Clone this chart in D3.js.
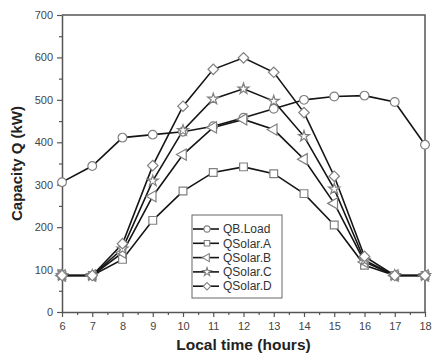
<!DOCTYPE html>
<html>
<head>
<meta charset="utf-8">
<script src="https://cdn.jsdelivr.net/npm/d3@7"></script>
<style>
  body { margin: 0; background: #fff; }
  svg { display: block; font-family: "Liberation Sans", Arial, sans-serif; }
</style>
</head>
<body>
<div id="chart"></div>
<script>
const hours = [6, 7, 8, 9, 10, 11, 12, 13, 14, 15, 16, 17, 18];
const loadQ = [306, 344, 411, 418, 425, 438, 458, 479, 500, 508, 510, 495, 394];
const solarA = [86, 86, 124, 216, 285, 329, 342, 326, 279, 205, 110, 86, 86];
const solarB = [86, 86, 140, 273, 371, 435, 454, 430, 360, 256, 118, 86, 86];
const solarC = [86, 86, 149, 309, 428, 502, 526, 497, 414, 290, 122, 86, 86];
const solarD = [86, 86, 161, 345, 485, 572, 599, 565, 470, 320, 131, 86, 86];
const seriesNames = ["QB.Load", "QSolar.A", "QSolar.B", "QSolar.C", "QSolar.D"];
const yTicks = [0, 100, 200, 300, 400, 500, 600, 700];

const width = 443;
const height = 364;
const margin = { top: 15, right: 18, bottom: 52, left: 62 };

const x = d3.scaleLinear()
    .domain([6, 18])
    .range([margin.left, width - margin.right]);

const y = d3.scaleLinear()
    .domain([0, 700])
    .range([height - margin.bottom, margin.top]);

const svg = d3.select("#chart")
    .append("svg")
    .attr("width", width)
    .attr("height", height);

const axisColor = "#555";

// minor ticks first
svg.append("g")
    .attr("transform", `translate(0,${y(0)})`)
    .call(d3.axisBottom(x).tickValues(d3.range(6.5, 18, 1)).tickSize(3).tickFormat(""))
    .call(g => g.select(".domain").remove())
    .call(g => g.selectAll("line").attr("stroke", axisColor).attr("stroke-width", 1.2));

svg.append("g")
    .attr("transform", `translate(${x(6)},0)`)
    .call(d3.axisLeft(y).tickValues(d3.range(50, 700, 100)).tickSize(3).tickFormat(""))
    .call(g => g.select(".domain").remove())
    .call(g => g.selectAll("line").attr("stroke", axisColor).attr("stroke-width", 1.2));

// major axes
svg.append("g")
    .attr("transform", `translate(0,${y(0)})`)
    .call(d3.axisBottom(x).tickValues(hours).tickSize(5).tickSizeOuter(0).tickPadding(5).tickFormat(d3.format("d")))
    .call(g => g.select(".domain").attr("stroke", axisColor).attr("stroke-width", 1.5))
    .call(g => g.selectAll("line").attr("stroke", axisColor).attr("stroke-width", 1.2))
    .call(g => g.selectAll("text").attr("fill", "#444").style("font-size", "11px"));

svg.append("g")
    .attr("transform", `translate(${x(6)},0)`)
    .call(d3.axisLeft(y).tickValues(yTicks).tickSize(5).tickSizeOuter(0).tickPadding(4))
    .call(g => g.select(".domain").attr("stroke", axisColor).attr("stroke-width", 1.5))
    .call(g => g.selectAll("line").attr("stroke", axisColor).attr("stroke-width", 1.2))
    .call(g => g.selectAll("text").attr("fill", "#444").style("font-size", "11px"));

// frame top and right
svg.append("path")
    .attr("d", `M${x(6)},${y(700)}H${x(18)}V${y(0)}`)
    .attr("fill", "none")
    .attr("stroke", axisColor)
    .attr("stroke-width", 1.5);

const shapes = [
    d3.symbol().type(d3.symbolCircle).size(60),
    d3.symbol().type(d3.symbolSquare).size(60),
    d3.symbol().type(d3.symbolTriangle).size(55),
    d3.symbol().type(d3.symbolStar).size(38),
    d3.symbol().type(d3.symbolSquare).size(55)
];
const rotations = [0, 0, -90, 0, 45];

const allSeries = [loadQ, solarA, solarB, solarC, solarD].map((vals, i) => ({
    name: seriesNames[i],
    shape: shapes[i],
    rot: rotations[i],
    values: hours.map((h, j) => ({ h, v: vals[j] }))
}));

const line = d3.line()
    .x(d => x(d.h))
    .y(d => y(d.v));

allSeries.forEach(s => {
    svg.append("path")
        .datum(s.values)
        .attr("fill", "none")
        .attr("stroke", "#151515")
        .attr("stroke-width", 1.6)
        .attr("d", line);
});

allSeries.forEach(s => {
    svg.append("g")
        .selectAll("path")
        .data(s.values)
        .enter()
        .append("path")
        .attr("d", s.shape)
        .attr("transform", d => `translate(${x(d.h)},${y(d.v)}) rotate(${s.rot})`)
        .attr("fill", "#fff")
        .attr("stroke", "#808080")
        .attr("stroke-width", 1.2);
});

// legend
const legend = svg.append("g").attr("transform", "translate(192,215)");
legend.append("rect")
    .attr("width", 90)
    .attr("height", 83)
    .attr("fill", "#fff")
    .attr("stroke", "#666")
    .attr("stroke-width", 1);

const legendSizes = [30, 30, 28, 22, 28];
allSeries.forEach((s, i) => {
    const ly = 14 + i * 14.3;
    legend.append("line")
        .attr("x1", 1).attr("x2", 27)
        .attr("y1", ly).attr("y2", ly)
        .attr("stroke", "#151515")
        .attr("stroke-width", 1.6);
    legend.append("path")
        .attr("d", s.shape.size(legendSizes[i])())
        .attr("transform", `translate(15,${ly}) rotate(${s.rot})`)
        .attr("fill", "#fff")
        .attr("stroke", "#808080")
        .attr("stroke-width", 1.1);
    legend.append("text")
        .attr("x", 31)
        .attr("y", ly)
        .attr("dy", "0.35em")
        .attr("fill", "#333")
        .style("font-size", "12px")
        .text(s.name);
});

svg.append("text")
    .attr("transform", "rotate(-90)")
    .attr("x", -(margin.top + y(0)) / 2)
    .attr("y", 22)
    .style("text-anchor", "middle")
    .style("font-size", "15px")
    .style("font-weight", "bold")
    .attr("fill", "#222")
    .text("Capacity Q (kW)");

svg.append("text")
    .attr("x", (x(6) + x(18)) / 2)
    .attr("y", 350)
    .style("text-anchor", "middle")
    .style("font-size", "15.5px")
    .style("font-weight", "bold")
    .attr("fill", "#222")
    .text("Local time (hours)");
</script>
</body>
</html>
